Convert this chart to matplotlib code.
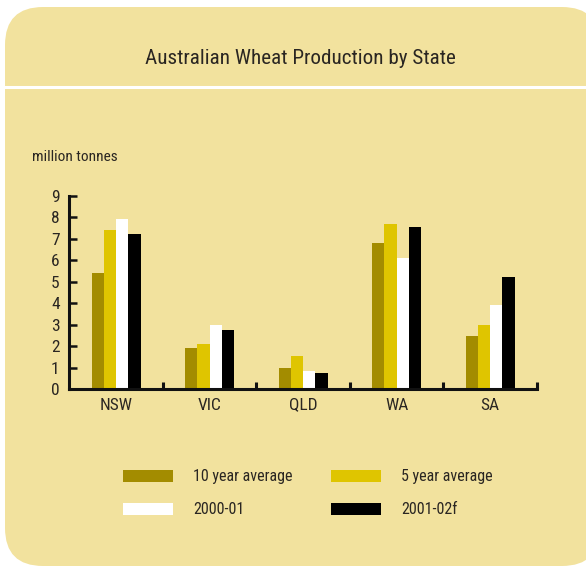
import matplotlib
matplotlib.use("Agg")
import matplotlib.pyplot as plt
from matplotlib.patches import FancyBboxPatch, Rectangle
from matplotlib.lines import Line2D
from matplotlib import font_manager
import numpy as np

# Wheat production (million tonnes) by state
states = ["NSW", "VIC", "QLD", "WA", "SA"]
avg_10yr = [5.4, 1.9, 1.0, 6.8, 2.5]
avg_5yr = [7.4, 2.1, 1.55, 7.7, 3.0]
y2000_01 = [7.9, 3.0, 0.85, 6.1, 3.9]
y2001_02f = [7.2, 2.75, 0.75, 7.55, 5.2]

series_labels = ["10 year average", "5 year average", "2000-01", "2001-02f"]
series_values = [avg_10yr, avg_5yr, y2000_01, y2001_02f]
series_colors = ["#A38C00", "#DFC500", "#FFFFFF", "#000000"]
y_ticks = list(range(0, 10))

W, H = 586, 566
BG = "#F2E29E"
TXT = "#2A2622"

# prefer a condensed face when one is available
installed = {f.name for f in font_manager.fontManager.ttflist}
FONT = [f for f in ["Liberation Sans Narrow", "DejaVu Sans Condensed", "Roboto Condensed",
                    "Roboto", "DejaVu Sans"] if f in installed]
plt.rcParams["font.family"] = FONT

fig = plt.figure(figsize=(W / 100, H / 100), dpi=100)
fig.patch.set_facecolor("white")


def fx(x):
    return x / W


def fy(y):
    return 1 - y / H


# rounded panel behind everything
panel = FancyBboxPatch((fx(5), fy(566)), fx(600 - 5), fy(7) - fy(566),
                       boxstyle="round,pad=0,rounding_size=0.065",
                       transform=fig.transFigure, facecolor=BG,
                       edgecolor="none", zorder=0,
                       mutation_aspect=W / H)
fig.add_artist(panel)
fig.add_artist(Line2D([fx(5), 1], [fy(87), fy(87)], transform=fig.transFigure,
                      color="white", lw=2.2, zorder=1))

fig.text(fx(300.5), fy(58), "Australian Wheat Production by State",
         ha="center", va="center", fontsize=15.2, color=TXT)
fig.text(fx(32), fy(157), "million tonnes", ha="left", va="center",
         fontsize=11.1, color=TXT)

ax = fig.add_axes([fx(69.3), fy(389.3), fx(537) - fx(69.3), fy(195.7) - fy(389.3)])
ax.set_facecolor("none")

x = np.arange(len(states))
bw = 0.131
for i, (vals, col) in enumerate(zip(series_values, series_colors)):
    ax.bar(x + (i - 1.5) * bw, vals, width=bw, color=col, edgecolor="none", zorder=2)

ax.set_xlim(-0.5, len(states) - 0.5)
ax.set_ylim(0, 9)
ax.set_yticks(y_ticks)
ax.set_xticks(x)
ax.set_xticklabels(states)
ax.set_xticks(np.arange(len(states)) + 0.5, minor=True)

for s in ["top", "right"]:
    ax.spines[s].set_visible(False)
for s in ["left", "bottom"]:
    ax.spines[s].set_linewidth(2.2)
    ax.spines[s].set_color("#111111")
    ax.spines[s].set_zorder(3)

ax.tick_params(axis="y", direction="in", length=6, width=1.8, color="#111111",
               labelsize=12.5, labelcolor=TXT, pad=7)
ax.tick_params(axis="x", which="major", length=0, labelsize=12.5, labelcolor=TXT, pad=6)
ax.tick_params(axis="x", which="minor", direction="in", length=5, width=2.2,
               color="#111111")

# legend swatches and labels
legend_pos = [(123, 476), (331, 476), (123, 509), (331, 509)]
for (lx, ly), lab, col in zip(legend_pos, series_labels, series_colors):
    fig.add_artist(Rectangle((fx(lx), fy(ly + 6)), fx(50), fy(0) - fy(12),
                             transform=fig.transFigure, facecolor=col,
                             edgecolor="none", zorder=2))
    fig.text(fx(lx + 70), fy(ly + 1), lab, ha="left", va="center",
             fontsize=11.5, color=TXT)

fig.savefig("out.png", dpi=100, facecolor=fig.get_facecolor())
